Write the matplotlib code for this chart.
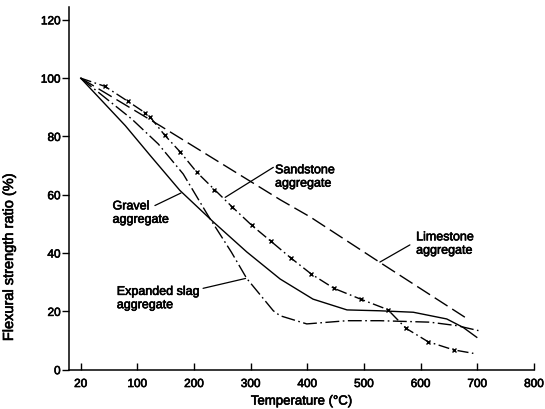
import numpy as np
import matplotlib
matplotlib.use("Agg")
import matplotlib.pyplot as plt
import matplotlib.patheffects as pe

plt.rcParams['font.family'] = ['Liberation Sans', 'DejaVu Sans']
plt.rcParams['lines.scale_dashes'] = False

# --- DATA ---
limestone_t = [20, 140, 352, 405, 528, 678]
limestone_v = [100, 83.7, 58.3, 52.4, 36.8, 18.0]

sandstone_t = [20, 54, 87, 113, 122, 148, 176, 205, 236, 267, 302, 336, 371,
               407, 447, 494, 542, 574, 613, 658, 693]
sandstone_v = [100, 97.2, 92.0, 88.2, 86.8, 80.5, 74.6, 67.7, 61.8, 55.9, 49.5,
               44.0, 38.3, 32.8, 27.9, 24.2, 20.6, 14.2, 9.6, 6.8, 5.6]

gravel_t = [20, 83, 123, 175, 234, 293, 352, 410, 470, 528, 587, 646, 675, 699]
gravel_v = [100, 83.7, 73.4, 61.5, 50.7, 40.4, 31.1, 24.2, 20.5, 20.2,
            19.7, 17.4, 14.5, 11.1]

slag_t = [20, 92, 137, 181, 225, 266, 293, 340, 352, 399, 470, 528, 616, 664, 702]
slag_v = [100, 86.0, 77.4, 67.1, 52.8, 40.3, 31.3, 20.2, 18.5, 15.7, 16.8, 16.8,
          16.3, 15.1, 13.4]

x_ticks = [20, 100, 200, 300, 400, 500, 600, 700, 800]
y_ticks = [0, 20, 40, 60, 80, 100, 120]


# the 20 -> 100 interval is stretched to the width of a 100-degree step
def fwd(x):
    x = np.asarray(x, dtype=float)
    return np.where(x < 100, (x - 20) * 1.25, x)


def inv(p):
    p = np.asarray(p, dtype=float)
    return np.where(p < 100, 20 + p * 0.8, p)


# slightly heavier type, like the printed original
heavy = [pe.withStroke(linewidth=0.45, foreground='black')]

fig = plt.figure(figsize=(5.45, 4.10), dpi=100, facecolor='white')
ax = fig.add_axes([0.1266, 0.0959, 0.8532, 0.8846])
ax.set_xscale('function', functions=(fwd, inv))

lw = 1.0
ax.plot(limestone_t, limestone_v, color='black', lw=lw, dashes=(11, 4))
ax.plot(sandstone_t, sandstone_v, color='black', lw=lw, dashes=(8, 2.5, 1.2, 2.5))
ax.plot(sandstone_t[1:-1], sandstone_v[1:-1], ls='none', marker='x', ms=3.2,
        mew=1.0, color='black')
ax.plot(gravel_t, gravel_v, color='black', lw=lw)
ax.plot(slag_t, slag_v, color='black', lw=lw, dashes=(10, 2.5, 1.2, 2.5))

# labels with leader lines
lead = dict(arrowstyle='-', lw=0.9, color='black', shrinkA=0, shrinkB=0)
fs = 9
txt = dict(fontsize=fs, ha='left', va='center', linespacing=1.15, path_effects=heavy)
ax.text(65, 53.7, 'Gravel\naggregate', **txt)
ax.annotate('', xy=(177, 60.6), xytext=(131, 56.3), arrowprops=lead)

ax.text(343, 66.1, 'Sandstone\naggregate', **txt)
ax.annotate('', xy=(255, 59.1), xytext=(340, 69.4), arrowprops=lead)

ax.text(592, 43.1, 'Limestone\naggregate', **txt)
ax.annotate('', xy=(528, 36.9), xytext=(581, 42.8), arrowprops=lead)

ax.text(71, 24.4, 'Expanded slag\naggregate', **txt)
ax.annotate('', xy=(291, 31.3), xytext=(216, 27.9), arrowprops=lead)

ax.set_xlim(3.5, 800)
ax.set_ylim(0, 124.4)
ax.set_xticks(x_ticks)
ax.set_xticklabels([str(t) for t in x_ticks])
ax.set_yticks(y_ticks)
ax.set_yticklabels([str(t) for t in y_ticks])
ax.minorticks_off()

for s in ['top', 'right']:
    ax.spines[s].set_visible(False)
for s in ['left', 'bottom']:
    ax.spines[s].set_linewidth(1.1)

ax.tick_params(axis='x', direction='in', length=5, width=1.0, pad=6, labelsize=8.5)
ax.tick_params(axis='y', direction='out', length=5, width=1.0, pad=1, labelsize=8.5)
for lab in ax.get_xticklabels() + ax.get_yticklabels():
    lab.set_path_effects(heavy)

ax.set_xlabel('Temperature (°C)', fontsize=9.5, labelpad=4, path_effects=heavy)
ax.set_ylabel('Flexural strength ratio (%)', fontsize=10.5, path_effects=heavy)
ax.yaxis.set_label_coords(-0.114, 0.312)

fig.savefig('out.png', dpi=100, facecolor='white')
